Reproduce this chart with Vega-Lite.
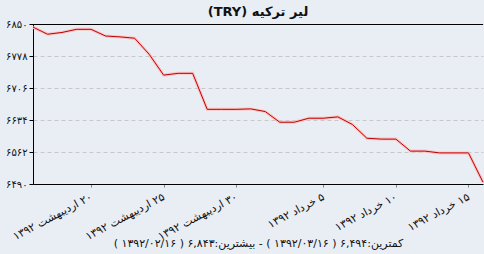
{
  "$schema": "https://vega.github.io/schema/vega-lite/v6.json",
  "autosize": "none",
  "width": 450,
  "height": 160,
  "padding": {"left": 33, "top": 24, "right": 1, "bottom": 70},
  "background": "#e9edf4",
  "config": {
    "view": {"stroke": null},
    "font": "DejaVu Sans",
    "axis": {"labelFont": "DejaVu Sans", "titleFont": "DejaVu Sans", "labelColor": "#111", "titleColor": "#111"}
  },
  "title": {
    "text": "\u202Bلیر ترکیه (TRY)\u202C",
    "fontSize": 13,
    "fontWeight": "bold",
    "font": "DejaVu Sans",
    "color": "#111",
    "anchor": "middle",
    "baseline": "bottom",
    "offset": -13
  },
  "data": {
    "values": [
      {"day": 0, "price": 6843},
      {"day": 1, "price": 6827},
      {"day": 2, "price": 6831},
      {"day": 3, "price": 6838},
      {"day": 4, "price": 6838},
      {"day": 5, "price": 6823},
      {"day": 6, "price": 6821},
      {"day": 7, "price": 6818},
      {"day": 8, "price": 6782},
      {"day": 9, "price": 6735},
      {"day": 10, "price": 6739},
      {"day": 11, "price": 6739},
      {"day": 12, "price": 6658},
      {"day": 13, "price": 6658},
      {"day": 14, "price": 6658},
      {"day": 15, "price": 6659},
      {"day": 16, "price": 6653},
      {"day": 17, "price": 6629},
      {"day": 18, "price": 6629},
      {"day": 19, "price": 6638},
      {"day": 20, "price": 6638},
      {"day": 21, "price": 6641},
      {"day": 22, "price": 6624},
      {"day": 23, "price": 6593},
      {"day": 24, "price": 6591},
      {"day": 25, "price": 6591},
      {"day": 26, "price": 6564},
      {"day": 27, "price": 6564},
      {"day": 28, "price": 6560},
      {"day": 29, "price": 6560},
      {"day": 30, "price": 6560},
      {"day": 31, "price": 6494}
    ]
  },
  "encoding": {
    "x": {
      "field": "day",
      "type": "quantitative",
      "scale": {"domain": [0, 31], "nice": false, "zero": false},
      "axis": {
        "values": [4, 9, 14, 20, 25, 30],
        "grid": false,
        "domainColor": "#000",
        "tickColor": "#888",
        "tickSize": 3,
        "labelAngle": -28,
        "labelAlign": "right",
        "labelBaseline": "middle",
        "labelPadding": 9,
        "labelFontSize": 11,
        "labelOverlap": false,
        "labelBound": false,
        "labelExpr": "datum.value == 4 ? '\u202B۲۰ اردیبهشت ۱۳۹۲\u202C' : datum.value == 9 ? '\u202B۲۵ اردیبهشت ۱۳۹۲\u202C' : datum.value == 14 ? '\u202B۳۰ اردیبهشت ۱۳۹۲\u202C' : datum.value == 20 ? '\u202B۵ خرداد ۱۳۹۲\u202C' : datum.value == 25 ? '\u202B۱۰ خرداد ۱۳۹۲\u202C' : '\u202B۱۵ خرداد ۱۳۹۲\u202C'",
        "title": "\u202Bکمترین:۶,۴۹۴ ( ۱۳۹۲/۰۳/۱۶ ) - بیشترین:۶,۸۴۳ ( ۱۳۹۲/۰۲/۱۶ )\u202C",
        "titleFontSize": 11,
        "titleFontWeight": "normal",
        "titleY": 59,
        "titleBaseline": "middle"
      }
    },
    "y": {
      "field": "price",
      "type": "quantitative",
      "scale": {"domain": [6490, 6850], "nice": false, "zero": false},
      "axis": {
        "values": [6490, 6562, 6634, 6706, 6778, 6850],
        "domainColor": "#000",
        "tickColor": "#000",
        "tickSize": 4,
        "labelPadding": 2,
        "labelFontSize": 10,
        "labelOverlap": false,
        "gridColor": "#c8c8c8",
        "gridDash": [4, 3],
        "title": null,
        "labelExpr": "replace(replace(replace(replace(replace(replace(replace(replace(replace(replace(datum.label, regexp('0','g'), '۰'), regexp('1','g'), '۱'), regexp('2','g'), '۲'), regexp('3','g'), '۳'), regexp('4','g'), '۴'), regexp('5','g'), '۵'), regexp('6','g'), '۶'), regexp('7','g'), '۷'), regexp('8','g'), '۸'), regexp('9','g'), '۹')",
        "format": "d"
      }
    }
  },
  "layer": [
    {"mark": {"type": "rule", "color": "#000", "strokeWidth": 1, "yOffset": 0.5}, "encoding": {"x": null, "y": {"datum": 6850, "type": "quantitative"}}},
    {"mark": {"type": "line", "color": "#f8c4c4", "strokeWidth": 3}},
    {"mark": {"type": "line", "color": "#c00000", "strokeWidth": 1}}
  ]
}
